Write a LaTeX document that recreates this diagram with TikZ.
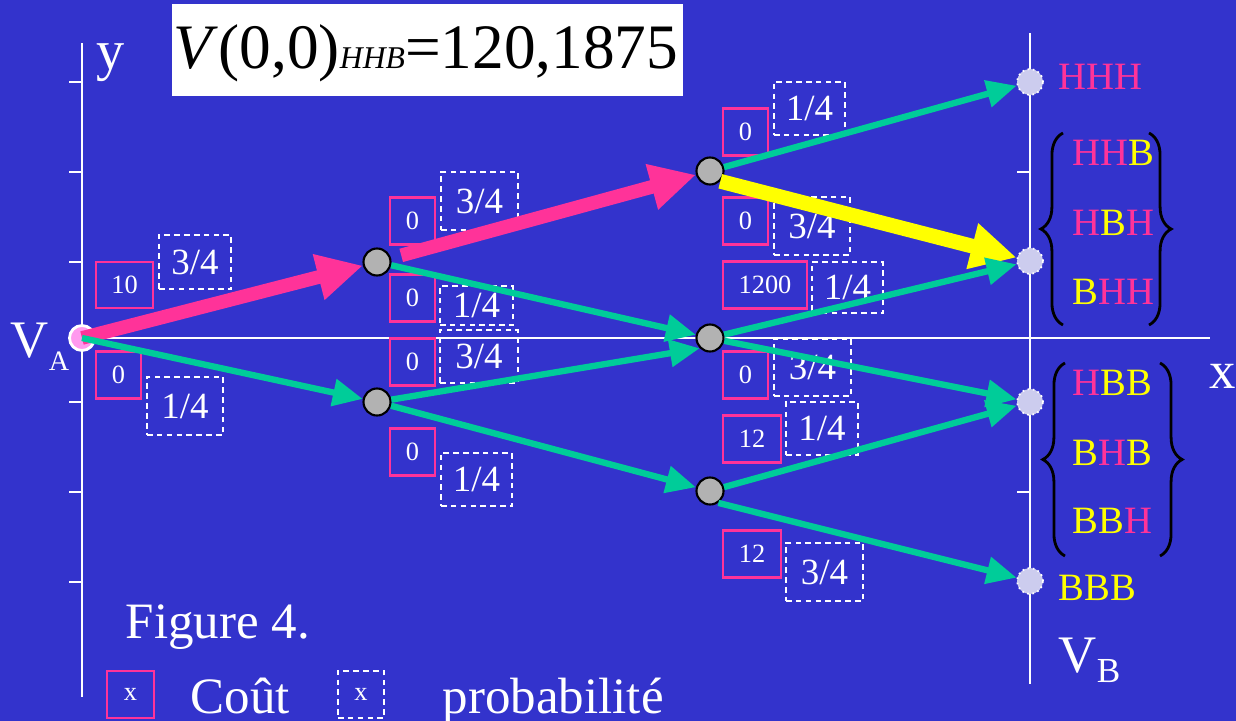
\documentclass[tikz,border=0pt]{standalone}
\usepackage{fontspec}
\setmainfont{Liberation Serif}
\usetikzlibrary{arrows.meta}
\usetikzlibrary{decorations.pathreplacing}

\definecolor{fond}{RGB}{51,51,204}
\definecolor{rose}{RGB}{255,51,153}
\definecolor{vert}{RGB}{0,204,153}
\definecolor{jaune}{RGB}{255,255,0}
\definecolor{gris}{RGB}{178,178,178}
\definecolor{lavande}{RGB}{204,204,238}
\definecolor{rosepale}{RGB}{255,153,238}

\newcommand{\Hr}{\textcolor{rose}{H}}
\newcommand{\Bj}{\textcolor{jaune}{B}}
\newcommand{\fs}[1]{\fontsize{#1}{#1}\selectfont}

\tikzset{
  cout/.style={draw=rose, line width=0.6pt, text=white, font=\fs{7.5}, inner sep=0pt, minimum width=0.45cm, minimum height=0.47cm},
  proba/.style={draw=white, line width=0.6pt, dash pattern=on 1.6pt off 1.2pt, text=white, font=\fs{10.5}, inner sep=0pt},
  etat/.style={circle, fill=gris, draw=black, line width=0.6pt, minimum size=0.27cm, inner sep=0pt},
  fin/.style={circle, fill=lavande, draw=white, densely dotted, line width=0.5pt, minimum size=0.26cm, inner sep=0pt},
  fleche/.style={vert, line width=1.8pt, -{Triangle[length=8.5pt,width=7.5pt]}},
  chemin/.style={rose, line width=3.9pt, -{Triangle[length=13pt,width=12.5pt]}},
  optimal/.style={jaune, line width=4.2pt, -{Triangle[length=13pt,width=12.5pt]}},
  lbl/.style={text=white, inner sep=0pt},
  accolade/.style={draw=black, line width=0.8pt, decorate, decoration={brace, amplitude=6.3pt}},
  axe/.style={white, line width=0.6pt},
}

\begin{document}
\begin{tikzpicture}[x=0.01cm, y=-0.01cm]
\fill[fond] (0,0) rectangle (1236,721);
\useasboundingbox (0,0) rectangle (1236,721);

% axes
\draw[axe] (82,43) -- (82,697);
\draw[axe] (82,338) -- (1210,338);
\draw[axe] (1030,33) -- (1030,684);
\foreach \yt in {82,172,262,402,492,582}
  \draw[axe] (69,\yt) -- (82,\yt);
\foreach \yt in {172,492}
  \draw[axe] (1017,\yt) -- (1030,\yt);
\node[lbl, font=\fs{16}, anchor=base west] (laby) at (96,70) {y};
\node[lbl, font=\fs{15}, anchor=base west] (labx) at (1209,388) {x};
\node[lbl, font=\fs{15}, anchor=base west] (nomva) at (10,357) {V\raisebox{-3.7pt}{\fs{8}A}};
\node[lbl, font=\fs{15}, anchor=base west] (nomvb) at (1058,672) {V\raisebox{-3pt}{\fs{10}B}};

% titre
\node[fill=white, minimum width=5.11cm, minimum height=0.91cm, inner sep=0pt] (titre) at (427.5,50) {};
\node[anchor=base, inner sep=0pt, font=\fs{18}] (valeur) at (426,68) {\textit{V}(0,0)\textit{\fs{9}HHB}=120,1875};

% couts et probabilites
\node[cout, minimum width=0.57cm, minimum height=0.46cm] (c10) at (124.5,285) {10};
\node[proba, minimum width=0.72cm, minimum height=0.54cm] (p34a) at (195,262) {3/4};
\node[cout] (c0a) at (118.5,375) {0};
\node[proba, minimum width=0.76cm, minimum height=0.58cm] (p14a) at (185,406) {1/4};

\node[cout] (c0b) at (412.5,221) {0};
\node[proba, minimum width=0.77cm, minimum height=0.58cm] (p34b) at (479.5,201) {3/4};
\node[cout] (c0c) at (412.5,298) {0};
\node[proba, minimum width=0.73cm, minimum height=0.39cm] (p14b) at (476.5,305.5) {1/4};
\node[cout] (c0d) at (412.5,362) {0};
\node[proba, minimum width=0.78cm, minimum height=0.53cm] (p34c) at (479,356.5) {3/4};
\node[cout] (c0e) at (412.5,452) {0};
\node[proba, minimum width=0.71cm, minimum height=0.53cm] (p14c) at (476.5,479.5) {1/4};

\node[cout] (c0f) at (745.5,132) {0};
\node[proba, minimum width=0.71cm, minimum height=0.53cm] (p14d) at (809.5,108.5) {1/4};
\node[cout] (c0g) at (745.5,221) {0};
\node[proba, minimum width=0.76cm, minimum height=0.58cm] (p34d) at (812,226) {3/4};
\node[cout, minimum width=0.84cm] (c1200) at (765,285) {1200};
\node[proba, minimum width=0.71cm, minimum height=0.51cm] (p14e) at (847.5,287.5) {1/4};
\node[cout] (c0h) at (745.5,375) {0};
\node[proba, minimum width=0.77cm, minimum height=0.57cm] (p34e) at (812.5,367.5) {3/4};
\node[cout, minimum width=0.58cm] (c12a) at (752,439) {12};
\node[proba, minimum width=0.72cm, minimum height=0.53cm] (p14f) at (822,428.5) {1/4};
\node[cout, minimum width=0.58cm] (c12b) at (752,554) {12};
\node[proba, minimum width=0.77cm, minimum height=0.58cm] (p34f) at (824.5,572) {3/4};

% arbre
\node[circle, fill=rosepale, draw=white, line width=0.8pt, minimum size=0.25cm, inner sep=0pt] (va) at (82,338) {};
\node[etat] (u1) at (377,262) {};
\node[etat] (d1) at (377,402) {};
\node[etat] (n2a) at (710,171) {};
\node[etat] (n2b) at (710,338) {};
\node[etat] (n2c) at (710,491) {};
\node[fin] (e1) at (1030,82) {};
\node[fin] (e2) at (1030,261) {};
\node[fin] (e3) at (1030,402) {};
\node[fin] (e4) at (1030,581) {};

\draw[chemin] (va.center) -- (u1);
\draw[fleche] (va.center) -- (d1);
\draw[chemin, shorten <=3pt] (u1) -- (n2a);
\draw[fleche] (u1) -- (n2b);
\draw[fleche] (d1) -- (n2b.225);
\draw[fleche] (d1) -- (n2c);
\draw[fleche] (n2a) -- (e1);
\draw[optimal] (n2a.-45) -- (e2);
\draw[fleche] (n2b) -- (e2);
\draw[fleche] (n2b) -- (e3);
\draw[fleche] (n2c) -- (e3);
\draw[fleche] (n2c.-55) -- (e4);

% issues
\node[lbl, font=\fs{11}, anchor=base west] (hhh) at (1058,89) {\Hr\Hr\Hr};
\node[lbl, font=\fs{11}, anchor=base west] (hhb) at (1072,165) {\Hr\Hr\Bj};
\node[lbl, font=\fs{11}, anchor=base west] (hbh) at (1072,235) {\Hr\Bj\Hr};
\node[lbl, font=\fs{11}, anchor=base west] (bhh) at (1072,304) {\Bj\Hr\Hr};
\node[lbl, font=\fs{11}, anchor=base west] (hbb) at (1072,395) {\Hr\Bj\Bj};
\node[lbl, font=\fs{11}, anchor=base west] (bhb) at (1072,465) {\Bj\Hr\Bj};
\node[lbl, font=\fs{11}, anchor=base west] (bbh) at (1072,533) {\Bj\Bj\Hr};
\node[lbl, font=\fs{11}, anchor=base west] (bbb) at (1058,600) {\Bj\Bj\Bj};
\draw[accolade] (1063,325) -- (1063,133);
\draw[accolade] (1149,133) -- (1149,325);
\draw[accolade] (1065,556) -- (1065,363);
\draw[accolade] (1160,363) -- (1160,556);

% legende
\node[lbl, font=\fs{14.5}, anchor=base west] (fig) at (125,638) {Figure 4.};
\node[cout, minimum width=0.47cm, font=\fs{7.5}] (lcout) at (130.5,694.5) {x};
\node[lbl, font=\fs{14.5}, anchor=base west] (tcout) at (190,713) {Coût};
\node[proba, minimum width=0.46cm, minimum height=0.47cm, font=\fs{7.5}] (lproba) at (361,694.5) {x};
\node[lbl, font=\fs{14.5}, anchor=base west] (tproba) at (442,713) {probabilité};
\end{tikzpicture}
\end{document}
